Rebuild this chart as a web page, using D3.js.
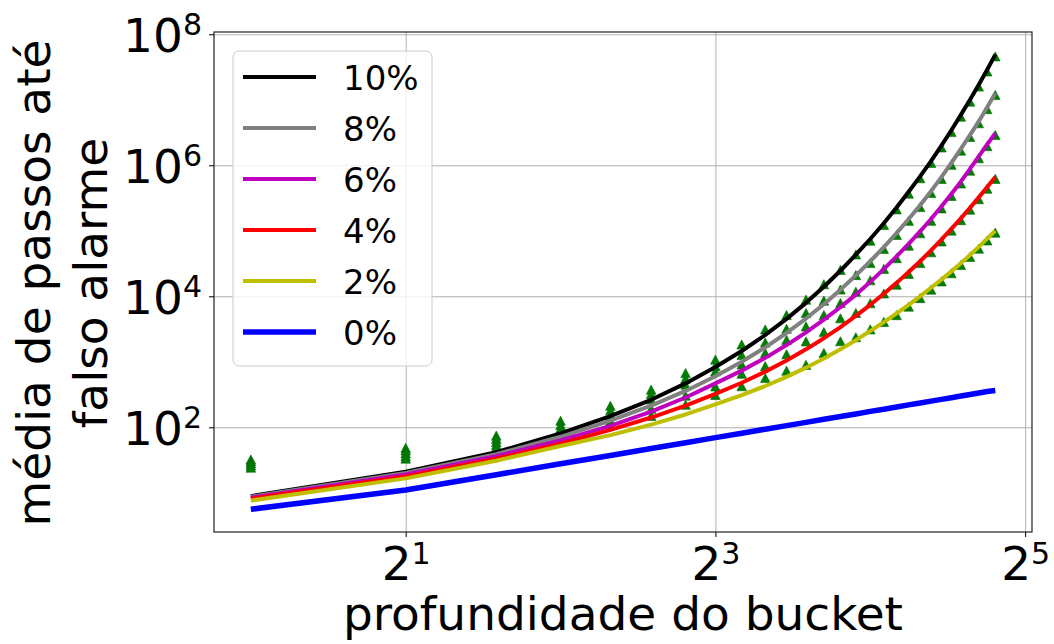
<!DOCTYPE html>
<html>
<head>
<meta charset="utf-8">
<script src="https://cdn.jsdelivr.net/npm/d3@7"></script>
<style>
  body { margin: 0; background: #fff; }
  #svg-container { width: 1054px; height: 644px; }
  svg { display: block; font-family: "DejaVu Sans", sans-serif; }
</style>
</head>
<body>
<div id="svg-container"></div>
<script>
////////////////////////////////////////////////////////////////////
////////////////////////////  Data  ////////////////////////////////
const depth = [1, 2, 3, 4, 5, 6, 7, 8, 9, 10, 11, 12, 13, 14, 15, 16, 17, 18, 19, 20, 21, 22, 23, 24, 25, 26, 27, 28];

// theoretical curves (one per error rate)
const line10 = [8.9, 20.9, 41.7, 80.4, 148, 263, 468, 832, 1462, 2570, 4519, 7943, 13960, 24550, 43150, 75000, 130300, 226500, 393600, 676100, 1161000, 1995000, 3428000, 5888000, 10000000, 16980000, 28840000, 48980000];
const line8 = [8.7, 20.0, 38.9, 71.6, 126, 214, 359, 603, 1000, 1660, 2754, 4571, 7586, 12590, 20890, 34280, 56230, 92260, 151400, 245500, 402700, 660700, 1084000, 1778000, 2884000, 4677000, 7674000, 12590000];
const line6 = [8.4, 19.1, 36.3, 63.1, 105, 174, 285, 468, 733, 1148, 1799, 2818, 4416, 6839, 10590, 16600, 26000, 40740, 63100, 97720, 151400, 234400, 363100, 562300, 881000, 1365000, 2089000, 3090000];
const line4 = [8.1, 17.8, 33.1, 56.2, 91.2, 141, 214, 324, 479, 708, 1047, 1549, 2291, 3388, 5012, 7413, 10960, 16030, 23440, 34280, 50120, 73280, 107200, 154900, 223900, 323600, 467700, 660700];
const line2 = [7.6, 16.6, 30.9, 51.9, 75.9, 110, 157, 224, 309, 427, 589, 813, 1122, 1549, 2138, 2951, 4027, 5495, 7413, 10000, 13490, 17990, 23990, 31990, 42660, 56890, 75860, 100000];
const line0 = [5.6, 11.0, 18.9, 27.7, 37.2, 47.4, 58.2, 69.5, 81.3, 93.6, 106, 119, 133, 146, 160, 175, 189, 204, 220, 235, 251, 267, 283, 300, 316, 333, 351, 364];

// simulated points (green triangles)
const sim10 = [32, 48, 74, 125, 211, 372, 667, 1070, 1820, 3090, 5130, 8810, 15140, 25120, 43150, 69800, 121200, 210600, 366000, 628800, 1080000, 1855000, 3188000, 5476000, 9300000, 15790000, 26820000, 45550000];
const sim8 = [30, 44, 66, 108, 180, 320, 550, 850, 1260, 1950, 3160, 5500, 8510, 12590, 20890, 31880, 52290, 85800, 140800, 228300, 374500, 614500, 1008000, 1654000, 2682000, 4350000, 7137000, 11710000];
const sim6 = [28, 40, 59, 95, 150, 263, 443, 708, 900, 1350, 2140, 3440, 5130, 7820, 11650, 17430, 26000, 37890, 58680, 90880, 140800, 218000, 337700, 522900, 819300, 1269000, 1943000, 2874000];
const sim4 = [26, 36, 53, 83, 125, 190, 302, 417, 650, 851, 1290, 2030, 2820, 4570, 5510, 7780, 10960, 14910, 21800, 31880, 46610, 68150, 99700, 144100, 208200, 301000, 435000, 614500];
const sim2 = [24, 33, 48, 74, 108, 148, 219, 309, 420, 560, 724, 890, 1350, 2040, 2350, 3100, 4027, 5110, 6890, 9300, 12550, 16730, 22310, 29750, 39670, 52910, 70550, 93000];

const labels = ["10%", "8%", "6%", "4%", "2%", "0%"];
const colors = ["#000000", "#808080", "#bf00bf", "#ff0000", "#bfbf00", "#0000ff"];
const lineWidths = [4, 4, 4, 4, 4, 5.5];
const lineSeries = [line10, line8, line6, line4, line2, line0];
const simSeries = [sim10, sim8, sim6, sim4, sim2];

const xTickExp = [1, 3, 5];
const yTickExp = [2, 4, 6, 8];

////////////////////////////////////////////////////////////////////
////////////////////////////  Init  ////////////////////////////////
const width = 1054;
const height = 644;
const margin = { top: 32, right: 22, bottom: 112, left: 214 };

const svg = d3
  .select("#svg-container")
  .append("svg")
  .attr("width", width)
  .attr("height", height);

// scales
const xScale = d3
  .scaleLog()
  .base(2)
  .domain([0.848, 33.0])
  .range([margin.left, width - margin.right]);

const yScale = d3
  .scaleLog()
  .domain([2.52, 1.084e8])
  .range([height - margin.bottom, margin.top]);

const xTicks = xTickExp.map((e) => Math.pow(2, e));
const yTicks = yTickExp.map((e) => Math.pow(10, e));

// grid
const xGrid = svg
  .append("g")
  .attr("transform", `translate(0,${height - margin.bottom})`)
  .call(
    d3.axisBottom(xScale).tickValues(xTicks).tickFormat("")
      .tickSize(-(height - margin.top - margin.bottom))
  );
xGrid.select(".domain").remove();
xGrid.selectAll("line").attr("stroke", "#b0b0b0").attr("stroke-width", 1);

const yGrid = svg
  .append("g")
  .attr("transform", `translate(${margin.left},0)`)
  .call(
    d3.axisLeft(yScale).tickValues(yTicks).tickFormat("")
      .tickSize(-(width - margin.left - margin.right))
  );
yGrid.select(".domain").remove();
yGrid.selectAll("line").attr("stroke", "#b0b0b0").attr("stroke-width", 1);

////////////////////////////////////////////////////////////////////
////////////////////////////  Marks  ///////////////////////////////
const tri = "M0,-4.8L4.8,4.3L-4.8,4.3Z";

simSeries.forEach((s) => {
  svg
    .append("g")
    .selectAll("path")
    .data(depth.map((d, i) => ({ d: d, v: s[i] })))
    .join("path")
    .attr("d", tri)
    .attr("transform", (p) => `translate(${xScale(p.d)},${yScale(p.v)})`)
    .attr("fill", "#008000")
    .attr("stroke", "#006400")
    .attr("stroke-width", 0.6);
});

const line = d3
  .line()
  .x((p) => xScale(p.d))
  .y((p) => yScale(p.v));

lineSeries.forEach((s, k) => {
  svg
    .append("path")
    .datum(depth.map((d, i) => ({ d: d, v: s[i] })))
    .attr("fill", "none")
    .attr("stroke", colors[k])
    .attr("stroke-width", lineWidths[k])
    .attr("stroke-linejoin", "round")
    .attr("d", line);
});

// frame
svg
  .append("rect")
  .attr("x", margin.left)
  .attr("y", margin.top)
  .attr("width", width - margin.left - margin.right)
  .attr("height", height - margin.top - margin.bottom)
  .attr("fill", "none")
  .attr("stroke", "#222")
  .attr("stroke-width", 1.2);

////////////////////////////////////////////////////////////////////
////////////////////////////  Axes  ////////////////////////////////
const gX = svg
  .append("g")
  .attr("transform", `translate(0,${height - margin.bottom})`)
  .call(d3.axisBottom(xScale).tickValues(xTicks).tickFormat("").tickSize(5));
gX.select(".domain").remove();
gX.selectAll(".tick text").remove();
gX.selectAll(".tick line").attr("stroke", "#000");
const xt = gX
  .selectAll(".tick")
  .append("text")
  .attr("y", 48)
  .attr("text-anchor", "middle")
  .attr("fill", "#000")
  .attr("font-family", "DejaVu Sans, sans-serif");
xt.append("tspan").attr("font-size", 47).text("2");
xt.append("tspan").attr("font-size", 30).attr("dy", -16).text((d, i) => xTickExp[i]);

const gY = svg
  .append("g")
  .attr("transform", `translate(${margin.left},0)`)
  .call(d3.axisLeft(yScale).tickValues(yTicks).tickFormat("").tickSize(5));
gY.select(".domain").remove();
gY.selectAll(".tick text").remove();
gY.selectAll(".tick line").attr("stroke", "#000");
const yt = gY
  .selectAll(".tick")
  .append("text")
  .attr("x", -12)
  .attr("y", 17)
  .attr("text-anchor", "end")
  .attr("fill", "#000")
  .attr("font-family", "DejaVu Sans, sans-serif");
yt.append("tspan").attr("font-size", 47).text("10");
yt.append("tspan").attr("font-size", 30).attr("dy", -17).text((d, i) => yTickExp[i]);

// axis labels
svg
  .append("text")
  .attr("x", (margin.left + width - margin.right) / 2)
  .attr("y", 630)
  .attr("text-anchor", "middle")
  .attr("font-size", 47)
  .attr("fill", "#000")
  .text("profundidade do bucket");

const yLab = svg
  .append("text")
  .attr("transform", "translate(50,283) rotate(-90)")
  .attr("text-anchor", "middle")
  .attr("font-size", 47)
  .attr("fill", "#000");
yLab.append("tspan").attr("x", 0).attr("y", 0).text("média de passos até");
yLab.append("tspan").attr("x", 0).attr("y", 57).text("falso alarme");

////////////////////////////////////////////////////////////////////
////////////////////////////  Legend  //////////////////////////////
const legend = svg.append("g");
legend
  .append("rect")
  .attr("x", 233)
  .attr("y", 51)
  .attr("width", 199)
  .attr("height", 315)
  .attr("rx", 6)
  .attr("fill", "#fff")
  .attr("fill-opacity", 0.8)
  .attr("stroke", "#cccccc")
  .attr("stroke-width", 1);

const entry = legend
  .selectAll("g.entry")
  .data(labels)
  .join("g")
  .attr("class", "entry")
  .attr("transform", (d, i) => `translate(0,${77 + i * 51})`);

entry
  .append("line")
  .attr("x1", 243)
  .attr("x2", 316)
  .attr("stroke", (d, i) => colors[i])
  .attr("stroke-width", (d, i) => lineWidths[i]);

entry
  .append("text")
  .attr("x", 343)
  .attr("y", 13)
  .attr("font-size", 34)
  .attr("fill", "#000")
  .text((d) => d);
</script>
</body>
</html>
